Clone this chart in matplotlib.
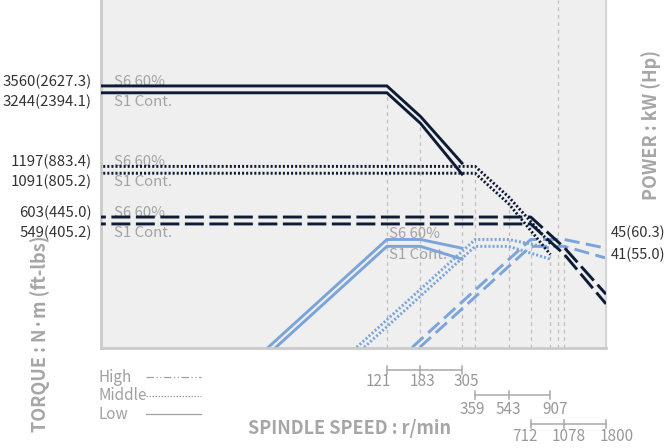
import matplotlib
matplotlib.use("Agg")
import matplotlib.pyplot as plt
from matplotlib import transforms
from matplotlib.lines import Line2D

plt.rcParams['font.family'] = ['Noto Sans CJK JP', 'DejaVu Sans']

# ---- data -------------------------------------------------------------
# speed breakpoints per gear (r/min); first entry lies left of the axis edge
low_speed = [3, 121, 183, 305]
mid_speed = [3, 359, 543, 907]
high_speed = [3, 712, 1078, 1800]

# torque (N·m)
low_torque_s6 = [3560, 3560, 2354, 1252]
low_torque_s1 = [3244, 3244, 2145, 1080]
mid_torque_s6 = [1197, 1197, 791, 421]
mid_torque_s1 = [1091, 1091, 721, 363]
high_torque_s6 = [603, 603, 398, 212]
high_torque_s1 = [549, 549, 363, 186]

# power (kW)
low_power_s6 = [1.12, 45, 45, 40]
low_power_s1 = [1.02, 41, 41, 34.5]
mid_power_s6 = [0.376, 45, 45, 40]
mid_power_s1 = [0.343, 41, 41, 34.5]
high_power_s6 = [0.19, 45, 45, 40]
high_power_s1 = [0.173, 41, 41, 35]

torque_labels_s6 = ["3560(2627.3)", "1197(883.4)", "603(445.0)"]
torque_labels_s1 = ["3244(2394.1)", "1091(805.2)", "549(405.2)"]
power_label_values = [45, 41]
power_labels = ["45(60.3)", "41(55.0)"]

gear_names = ["High", "Middle", "Low"]
extra_guide_speed = 1000

# ---- styles -----------------------------------------------------------
NAVY = "#0e1b35"
BLUE = "#7ba4da"
GUIDE = "#bfbfbf"
LABEL_GRAY = "#a3a3a3"
TEXT_DARK = "#333333"
BG = "#efefef"

low_ls = "-"
mid_ls = (0, (0.7, 0.7))
high_ls_t = (0, (6.5, 1.9))
high_ls_p = (0, (5.2, 2.2))

W, H = 667, 448
fig = plt.figure(figsize=(W / 100, H / 100), dpi=100)
fig.patch.set_facecolor("white")

x0, x1 = 101, 606
y_bot = 348
ax_p = fig.add_axes([x0 / W, 1 - y_bot / H, (x1 - x0) / W, y_bot / H])
ax_t = ax_p.twinx()

ax_p.set_facecolor(BG)
for ax in (ax_p, ax_t):
    ax.set_xscale("log")
    ax.set_yscale("log")
    ax.set_xticks([])
    ax.set_yticks([])
    ax.minorticks_off()
    ax.tick_params(which="both", left=False, right=False, bottom=False, top=False,
                   labelleft=False, labelright=False, labelbottom=False)
ax_p.set_xlim(3.57, 1800)
ax_p.set_ylim(10.35, 1153)
ax_t.set_ylim(102.3, 11400)

for ax in (ax_p, ax_t):
    for s in ax.spines.values():
        s.set_visible(False)
for side in ("left", "bottom"):
    ax_p.spines[side].set_visible(True)
    ax_p.spines[side].set_color("#cacaca")
    ax_p.spines[side].set_linewidth(2.0)
ax_p.spines["right"].set_visible(True)
ax_p.spines["right"].set_color("#d6d6d6")
ax_p.spines["right"].set_linewidth(1.6)

# ---- guide lines ------------------------------------------------------
guide_tr = transforms.blended_transform_factory(ax_p.transData, ax_t.transData)
bottom_torque = 102.3
for speeds, tq in ((low_speed, low_torque_s1), (mid_speed, mid_torque_s1),
                   (high_speed, high_torque_s1)):
    for s, t in zip(speeds[1:], tq[1:]):
        ax_p.plot([s, s], [bottom_torque, t], transform=guide_tr, color=GUIDE,
                  lw=0.9, ls=(0, (3, 3)), zorder=0.5, scalex=False, scaley=False)
ax_p.plot([extra_guide_speed] * 2, [bottom_torque, 11400], transform=guide_tr,
          color=GUIDE, lw=0.9, ls=(0, (3, 3)), zorder=0.5, scalex=False, scaley=False)

# ---- power curves (blue) ---------------------------------------------
LW = 2.1
for speeds, p6, p1, ls in ((low_speed, low_power_s6, low_power_s1, low_ls),
                           (mid_speed, mid_power_s6, mid_power_s1, mid_ls),
                           (high_speed, high_power_s6, high_power_s1, high_ls_p)):
    ax_p.plot(speeds, p6, color=BLUE, lw=LW, ls=ls, zorder=2,
              scalex=False, scaley=False, solid_joinstyle="miter")
    ax_p.plot(speeds, p1, color=BLUE, lw=LW, ls=ls, zorder=2,
              scalex=False, scaley=False, solid_joinstyle="miter")

# ---- torque curves (navy) --------------------------------------------
for speeds, t6, t1, ls in ((low_speed, low_torque_s6, low_torque_s1, low_ls),
                           (mid_speed, mid_torque_s6, mid_torque_s1, mid_ls),
                           (high_speed, high_torque_s6, high_torque_s1, high_ls_t)):
    ax_t.plot(speeds, t6, color=NAVY, lw=LW, ls=ls, zorder=2,
              scalex=False, scaley=False, solid_joinstyle="miter")
    ax_t.plot(speeds, t1, color=NAVY, lw=LW, ls=ls, zorder=2,
              scalex=False, scaley=False, solid_joinstyle="miter")

# ---- labels on curves -------------------------------------------------
lab_tr_t = transforms.blended_transform_factory(ax_t.transAxes, ax_t.transData)
lab_tr_p = transforms.blended_transform_factory(ax_p.transAxes, ax_p.transData)
FS = 10.8
t6_vals = [low_torque_s6[1], mid_torque_s6[1], high_torque_s6[1]]
t1_vals = [low_torque_s1[1], mid_torque_s1[1], high_torque_s1[1]]
for t6, t1, l6, l1 in zip(t6_vals, t1_vals, torque_labels_s6, torque_labels_s1):
    for val, txt, dy in ((t6, l6, 4), (t1, l1, -9)):
        ax_t.annotate(txt, xy=(-0.018, val), xycoords=lab_tr_t, xytext=(0, dy),
                      textcoords="offset pixels", ha="right", va="center",
                      fontsize=FS, color=TEXT_DARK, annotation_clip=False)
    ax_t.annotate("S6 60%", xy=(0.026, t6), xycoords=lab_tr_t, xytext=(0, 4),
                  textcoords="offset pixels", ha="left", va="center",
                  fontsize=FS, color=LABEL_GRAY, zorder=1)
    ax_t.annotate("S1 Cont.", xy=(0.026, t1), xycoords=lab_tr_t, xytext=(0, -9),
                  textcoords="offset pixels", ha="left", va="center",
                  fontsize=FS, color=LABEL_GRAY, zorder=1)

ax_p.annotate("S6 60%", xy=(124, low_power_s6[1]), xytext=(0, 5),
              textcoords="offset pixels", ha="left", va="center",
              fontsize=FS, color=LABEL_GRAY, zorder=1)
ax_p.annotate("S1 Cont.", xy=(124, low_power_s1[1]), xytext=(0, -8.5),
              textcoords="offset pixels", ha="left", va="center",
              fontsize=FS, color=LABEL_GRAY, zorder=1)

for val, txt, dy in zip(power_label_values, power_labels, (6.5, -8.5)):
    ax_p.annotate(txt, xy=(1.0, val), xycoords=lab_tr_p, xytext=(5, dy),
                  textcoords="offset pixels", ha="left", va="center",
                  fontsize=10.5, color=TEXT_DARK, annotation_clip=False)

# ---- axis titles ------------------------------------------------------
TITLE_GRAY = "#a6a6a6"
fig.text(350 / W, 1 - 428 / H, "SPINDLE SPEED : r/min", ha="center", va="center",
         fontsize=13, fontweight="bold", color=TITLE_GRAY)
fig.text(40 / W, 1 - 334 / H, "TORQUE : N·m (ft-lbs)", ha="center", va="center",
         rotation=90, fontsize=13, fontweight="bold", color=TITLE_GRAY)
fig.text(651 / W, 1 - 125 / H, "POWER : kW (Hp)", ha="center", va="center",
         rotation=90, fontsize=13, fontweight="bold", color=TITLE_GRAY)

# ---- speed range scales under the chart ------------------------------
SCALE_GRAY = "#a8a8a8"
scale_tr = transforms.blended_transform_factory(ax_p.transData, fig.transFigure)
scale_rows = [(low_speed[1:], 369.5, 381.5, [-9, 2, 4]),
              (mid_speed[1:], 394.5, 409.5, [-3, 0, 5]),
              (high_speed[1:], 423.5, 436.5, [-6, 4, 11])]
for speeds, y_line, y_lab, offs in scale_rows:
    yl = 1 - y_line / H
    ax_p.plot([speeds[0], speeds[-1]], [yl, yl], transform=scale_tr, color=SCALE_GRAY,
              lw=1.1, clip_on=False, scalex=False, scaley=False)
    for s, off in zip(speeds, offs):
        ax_p.plot([s, s], [1 - (y_line - 4) / H, 1 - (y_line + 4) / H], transform=scale_tr,
                  color=SCALE_GRAY, lw=1.1, clip_on=False, scalex=False, scaley=False)
        ax_p.annotate(str(s), xy=(s, 1 - y_lab / H), xycoords=scale_tr, xytext=(off, 0),
                      textcoords="offset pixels", ha="center", va="center",
                      fontsize=11, color="#999999", annotation_clip=False)

# ---- line-style key ---------------------------------------------------
KEY_GRAY = "#a0a0a0"
key_styles = [(0, (6, 2, 1, 2, 1, 2)), (0, (1.2, 1.2)), "-"]
for i, (name, ls) in enumerate(zip(gear_names, key_styles)):
    yc = 1 - (377 + 18.5 * i) / H
    fig.text(98 / W, yc, name, ha="left", va="center", fontsize=11, color=KEY_GRAY)
    fig.add_artist(Line2D([146 / W, 201 / W], [yc, yc], transform=fig.transFigure,
                          color=KEY_GRAY, lw=0.9, ls=ls))

fig.savefig("out.png", dpi=100, facecolor="white")
